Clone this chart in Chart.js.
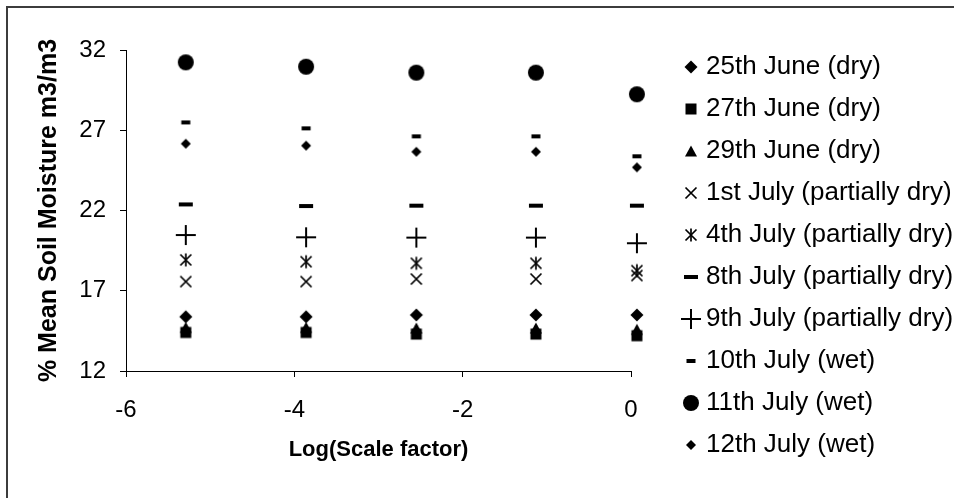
<!DOCTYPE html>
<html>
<head>
<meta charset="utf-8">
<script src="https://cdn.jsdelivr.net/npm/chart.js@4.4.1/dist/chart.umd.min.js"></script>
<style>
  html, body { margin: 0; background: #fff; }
  #wrap { position: relative; width: 954px; height: 498px; }
</style>
</head>
<body>
<div id="wrap"><canvas id="chart"></canvas></div>
<script>
// log10 of the scale factor at each aggregation step
const logScale = [-5.29, -3.86, -2.55, -1.13, 0.07];

const seriesLabels = [
  '25th June (dry)', '27th June (dry)', '29th June (dry)',
  '1st July (partially dry)', '4th July (partially dry)',
  '8th July (partially dry)', '9th July (partially dry)',
  '10th July (wet)', '11th July (wet)', '12th July (wet)',
];

// mean soil moisture per survey day, one value per scale step
const june25 = [15.38, 15.38, 15.49, 15.49, 15.49];
const june27 = [14.40, 14.40, 14.30, 14.30, 14.20];
const june29 = [14.72, 14.72, 14.68, 14.68, 14.60];
const july1  = [17.57, 17.57, 17.73, 17.73, 17.95];
const july4  = [18.92, 18.81, 18.71, 18.71, 18.25];
const july8  = [22.38, 22.28, 22.30, 22.30, 22.30];
const july9  = [20.47, 20.33, 20.31, 20.31, 19.96];
const july10 = [27.49, 27.12, 26.62, 26.62, 25.38];
const july11 = [31.23, 30.96, 30.59, 30.59, 29.24];
const july12 = [26.16, 26.04, 25.66, 25.66, 24.69];

const yTicks = [12, 17, 22, 27, 32];
const xTicks = [-6, -4, -2, 0];

const FONT = "'Liberation Sans', Arial, sans-serif";

// marker glyphs as small canvases so chart and legend share the same size
function marker(draw) {
  const c = document.createElement('canvas');
  c.width = c.height = 24;
  const g = c.getContext('2d');
  g.translate(12, 12);
  g.fillStyle = g.strokeStyle = '#000';
  g.lineWidth = 1.7;
  draw(g);
  return c;
}
const diamond = r => g => {
  g.beginPath(); g.moveTo(0, -r); g.lineTo(r, 0); g.lineTo(0, r); g.lineTo(-r, 0);
  g.closePath(); g.fill();
};
const square = s => g => g.fillRect(-s / 2, -s / 2, s, s);
const triangle = (w, h) => g => {
  g.beginPath(); g.moveTo(0, -h / 2); g.lineTo(w / 2, h / 2); g.lineTo(-w / 2, h / 2);
  g.closePath(); g.fill();
};
const cross = r => g => {
  g.beginPath(); g.moveTo(-r, -r); g.lineTo(r, r); g.moveTo(r, -r); g.lineTo(-r, r); g.stroke();
};
const asterisk = r => g => {
  cross(r)(g);
  g.beginPath(); g.moveTo(0, -r - 1); g.lineTo(0, r + 1); g.stroke();
};
const plus = r => g => {
  g.lineWidth = 2;
  g.beginPath(); g.moveTo(-r, 0); g.lineTo(r, 0); g.moveTo(0, -r); g.lineTo(0, r); g.stroke();
};
const bar = (w, h) => g => g.fillRect(-w / 2, -h / 2, w, h);
const dot = r => g => { g.beginPath(); g.arc(0, 0, r, 0, Math.PI * 2); g.fill(); };

const markers = [
  marker(diamond(6.5)),
  marker(square(11)),
  marker(triangle(12, 11)),
  marker(cross(5.5)),
  marker(asterisk(5.5)),
  marker(bar(14, 4)),
  marker(plus(10)),
  marker(bar(9, 4)),
  marker(dot(8)),
  marker(diamond(5)),
];

const values = [june25, june27, june29, july1, july4, july8, july9, july10, july11, july12];

const datasets = values.map((ys, i) => ({
  label: seriesLabels[i],
  data: ys.map((y, j) => ({ x: logScale[j], y })),
  pointStyle: markers[i],
  pointRadius: 10,
  showLine: false,
  clip: false,
}));

// outer chart frame
const frame = {
  id: 'frame',
  beforeDraw(chart) {
    const { ctx } = chart;
    ctx.save();
    ctx.strokeStyle = '#3c3c3c';
    ctx.lineWidth = 2;
    ctx.strokeRect(7, 7, chart.width + 10, chart.height + 10);
    ctx.restore();
  },
};

// move the legend clear of the plot and let its text run to the edge
const legendNudge = {
  id: 'legendNudge',
  afterLayout(chart) {
    const lg = chart.legend;
    lg.left += 42;
    lg.right = chart.width;
    lg.top -= 13; lg.bottom -= 13;
  },
};

new Chart(document.getElementById('chart'), {
  type: 'scatter',
  data: { datasets },
  plugins: [frame, legendNudge],
  options: {
    responsive: true,
    maintainAspectRatio: false,
    animation: false,
    events: [],
    layout: { padding: { left: 10, top: 50, right: 123, bottom: 10 } },
    plugins: {
      tooltip: { enabled: false },
      legend: {
        position: 'right',
        maxWidth: 200,
        labels: {
          usePointStyle: true,
          boxWidth: 4,
          boxHeight: 4,
          padding: 16,
          color: '#000',
          font: { family: FONT, size: 26 },
        },
      },
    },
    scales: {
      x: {
        type: 'linear',
        min: xTicks[0],
        max: xTicks[xTicks.length - 1],
        afterFit(scale) { scale.height = 117; },
        ticks: {
          stepSize: xTicks[1] - xTicks[0],
          color: '#000',
          padding: 19,
          font: { family: FONT, size: 24 },
        },
        grid: { display: true, drawOnChartArea: false, tickLength: 6, color: '#000' },
        border: { display: true, color: '#000', width: 1 },
        title: {
          display: true,
          text: 'Log(Scale factor)',
          color: '#000',
          font: { family: FONT, size: 22, weight: 'bold' },
          padding: { top: 13, bottom: 25 },
        },
      },
      y: {
        min: yTicks[0],
        max: yTicks[yTicks.length - 1],
        afterFit(scale) { scale.width = 116; },
        ticks: {
          stepSize: yTicks[1] - yTicks[0],
          color: '#000',
          padding: 14,
          font: { family: FONT, size: 24 },
        },
        grid: { display: true, drawOnChartArea: false, tickLength: 6, color: '#000' },
        border: { display: true, color: '#000', width: 1 },
        title: {
          display: true,
          text: '% Mean Soil Moisture m3/m3',
          color: '#000',
          font: { family: FONT, size: 25, weight: 'bold' },
          padding: { top: 24, bottom: 0 },
        },
      },
    },
  },
});
</script>
</body>
</html>
